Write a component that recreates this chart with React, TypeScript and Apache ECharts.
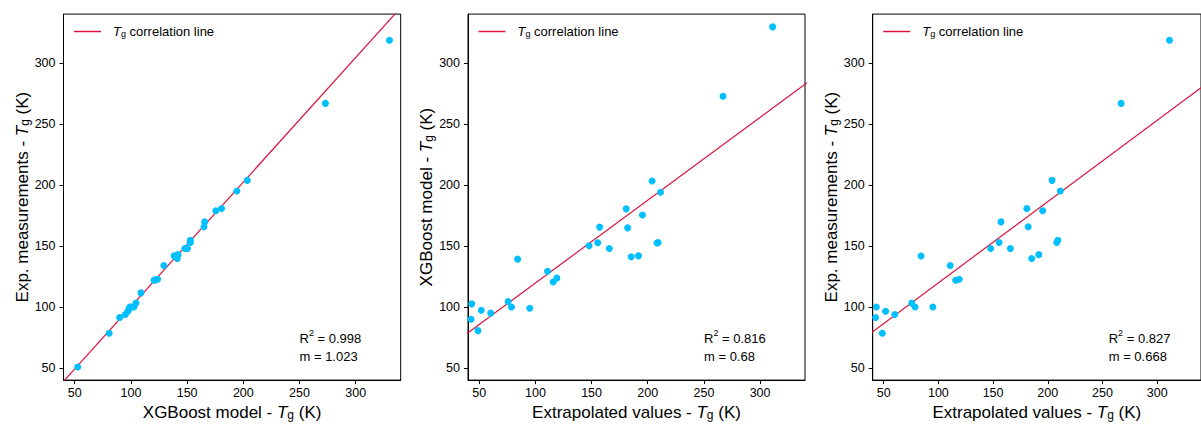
import React, { useEffect, useRef } from "react";
import * as echarts from "echarts";

// ---- data ----
// Panels 2 & 3 share the extrapolated values
const extrapolated = [311.2, 267.0, 203.9, 211.4, 180.8, 195.3, 157.2, 182.1, 147.8, 155.5, 165.8, 185.3, 191.8, 208.2, 209.2, 84.2, 110.8, 115.8, 119.1, 75.7, 78.7, 95.0, 43.3, 42.7, 51.8, 60.2, 48.8];
const xgboost = [330.0, 273.0, 203.5, 194.2, 180.6, 175.5, 165.6, 165.0, 150.3, 152.8, 148.0, 141.2, 142.0, 152.6, 152.9, 139.3, 129.3, 120.5, 123.7, 104.5, 100.0, 99.0, 102.6, 90.0, 97.3, 95.0, 80.6];
const experimental = [319.1, 267.2, 204.0, 195.2, 180.9, 179.0, 169.9, 165.9, 148.1, 153.0, 148.1, 139.8, 143.0, 153.0, 154.8, 141.9, 134.1, 122.0, 122.8, 103.2, 100.0, 100.0, 100.0, 91.4, 96.5, 93.8, 78.5];
// Additional points visible only in panel 1 (XGBoost vs experimental)
const extraXgb = [52.7, 108.9, 121.8, 149.3, 138.4, 98.2];
const extraExp = [50.8, 111.6, 122.3, 148.0, 142.0, 98.4];

const tickValues = [50, 100, 150, 200, 250, 300];
const fitSlopes = [1.023, 0.68, 0.668];
const fitIntercepts = [-2.0, 51.7, 53.0];
const r2Values = ["0.998", "0.816", "0.827"];
const mLabels = ["1.023", "0.68", "0.668"];
const lineXRange = [20, 360];

const xNames = ["XGBoost model - ", "Extrapolated values - ", "Extrapolated values - "];
const yNames = ["Exp. measurements - ", "XGBoost model - ", "Exp. measurements - "];

const FONT = "'Liberation Sans', Arial, Helvetica, sans-serif";
const DOT = "#00BFFF";
const RED = "#DC143C";

const grids = [
  { left: 63.5, width: 337.2 },
  { left: 468.0, width: 337.0 },
  { left: 872.7, width: 337.0 },
];
const GRID_TOP = 14.1;
const GRID_H = 372.6;

const nameRich = {
  it: { fontStyle: "italic" as const, fontSize: 17, fontFamily: FONT, color: "#000" },
  sub: { fontSize: 12, fontFamily: FONT, color: "#000", verticalAlign: "bottom" as const, lineHeight: 12 },
};

export default function App() {
  const ref = useRef<HTMLDivElement>(null);
  useEffect(() => {
    if (!ref.current) return;
    const chart = echarts.init(ref.current, undefined, { renderer: "svg" });

    const panelPoints = [
      [...xgboost.map((x, i) => [x, experimental[i]]), ...extraXgb.map((x, i) => [x, extraExp[i]])],
      extrapolated.map((x, i) => [x, xgboost[i]]),
      extrapolated.map((x, i) => [x, experimental[i]]),
    ];

    const series: any[] = [];
    panelPoints.forEach((pts, i) => {
      series.push({
        type: "line",
        name: "Tg correlation line",
        xAxisIndex: i,
        yAxisIndex: i,
        data: lineXRange.map((x) => [x, fitSlopes[i] * x + fitIntercepts[i]]),
        showSymbol: false,
        symbol: "none",
        lineStyle: { color: RED, width: 1.2 },
        itemStyle: { color: RED },
        clip: true,
        z: 2,
      });
      series.push({
        type: "scatter",
        name: "points" + i,
        xAxisIndex: i,
        yAxisIndex: i,
        data: pts,
        symbolSize: 7,
        itemStyle: { color: DOT, opacity: 1 },
        z: 3,
      });
    });

    const axisCommon = (i: number) => ({
      type: "value",
      gridIndex: i,
      min: 40,
      max: 340,
      nameLocation: "middle",
      axisLine: { show: true, onZero: false, lineStyle: { color: "#000", width: 1 } },
      axisTick: { show: true, inside: false, length: 4, customValues: tickValues, lineStyle: { color: "#000", width: 1 } },
      axisLabel: { customValues: tickValues, fontSize: 12.5, color: "#000", fontFamily: FONT },
      splitLine: { show: false },
    });

    chart.setOption({
      animation: false,
      backgroundColor: "#fff",
      grid: grids.map((g) => ({
        left: g.left,
        top: GRID_TOP,
        width: g.width,
        height: GRID_H,
        show: true,
        borderColor: "#000",
        borderWidth: 1,
        backgroundColor: "transparent",
        containLabel: false,
      })),
      xAxis: grids.map((_, i) => ({
        ...axisCommon(i),
        name: xNames[i] + "{it|T}{sub|g} (K)",
        nameGap: 20,
        nameTextStyle: { fontSize: 17, color: "#000", fontFamily: FONT, rich: nameRich },
        axisLabel: { ...axisCommon(i).axisLabel, margin: 6 },
      })),
      yAxis: grids.map((_, i) => ({
        ...axisCommon(i),
        max: 340.5,
        name: yNames[i] + "{it|T}{sub|g} (K)",
        nameGap: 33,
        nameTextStyle: { fontSize: 17, color: "#000", fontFamily: FONT, rich: nameRich },
        axisLabel: { ...axisCommon(i).axisLabel, margin: 8 },
      })),
      legend: grids.map((g) => ({
        data: [{ name: "Tg correlation line", icon: "rect" }],
        left: g.left + 10.5,
        top: 25,
        itemWidth: 27,
        itemHeight: 1.5,
        itemGap: 0,
        padding: 0,
        formatter: () => "{it|T}{sub|g} correlation line",
        textStyle: {
          fontSize: 13,
          color: "#000",
          fontFamily: FONT,
          padding: [0, 0, 0, 7],
          rich: {
            it: { fontStyle: "italic", fontSize: 13, fontFamily: FONT, color: "#000" },
            sub: { fontSize: 9, fontFamily: FONT, color: "#000", verticalAlign: "bottom", lineHeight: 9 },
          },
        },
        selectedMode: false,
      })),
      graphic: grids.flatMap((g, i) => [
        {
          type: "text",
          left: g.left + 236,
          top: 328,
          style: {
            text: "R{sup|2} = " + r2Values[i],
            fontSize: 13,
            lineHeight: 20,
            fontFamily: FONT,
            fill: "#000",
            rich: { sup: { fontSize: 9, lineHeight: 9, fontFamily: FONT, verticalAlign: "top", fill: "#000" } },
          },
        },
        {
          type: "text",
          left: g.left + 236,
          top: 350,
          style: { text: "m = " + mLabels[i], fontSize: 13, fontFamily: FONT, fill: "#000" },
        },
      ]),
      series,
    });
    return () => chart.dispose();
  }, []);
  return <div ref={ref} style={{ position: "fixed", left: 0, top: 0, width: 1201, height: 426 }} />;
}
